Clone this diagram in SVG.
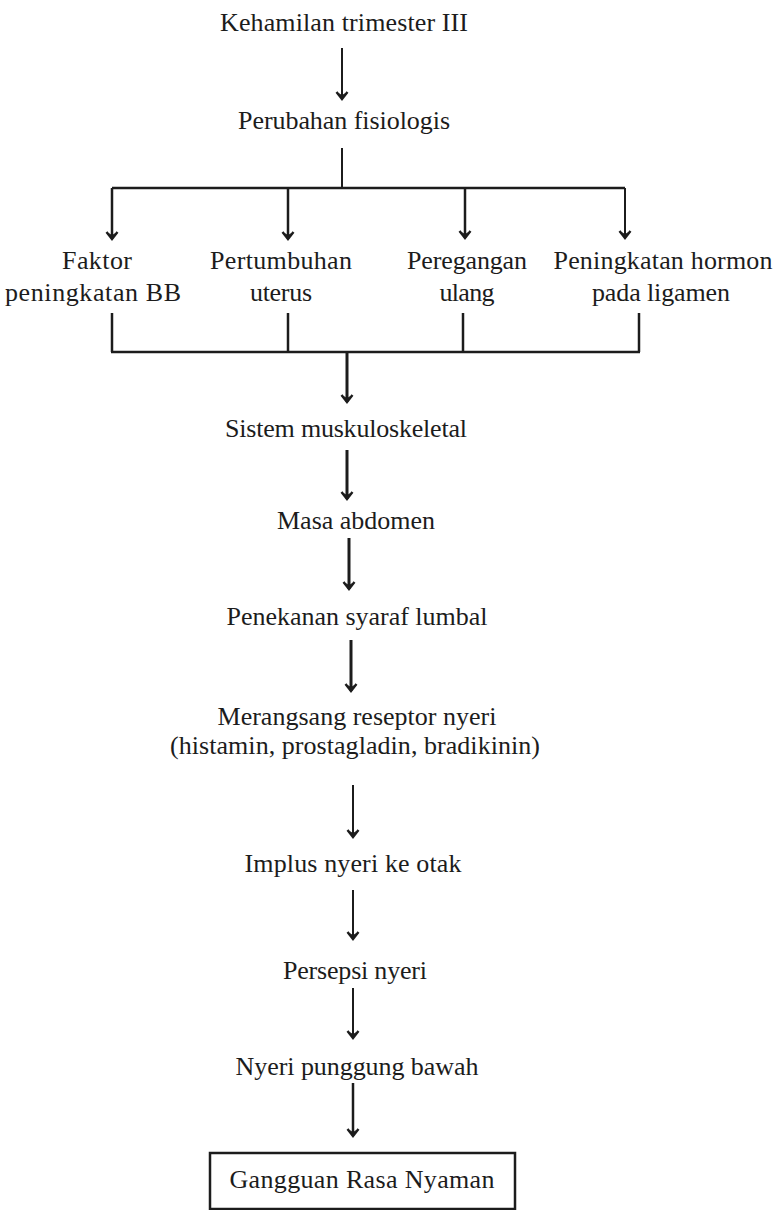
<svg xmlns="http://www.w3.org/2000/svg" width="779" height="1210" viewBox="0 0 779 1210">
<style>
text{font-family:"Liberation Serif","Times New Roman",serif;font-size:26px;fill:#1c1c1c;text-anchor:middle}
.c{fill:none;stroke:#1c1c1c;stroke-linecap:butt}
.t{stroke-width:2}
.m{stroke-width:2.5}
.k{stroke-width:3}
.box{fill:#fff;stroke:#1c1c1c;stroke-width:2.5}
</style>
<defs>
<marker id="ah" markerUnits="userSpaceOnUse" viewBox="-10 -8 12 16" markerWidth="12" markerHeight="16" refX="0" refY="0" orient="auto" overflow="visible">
<path d="M-7,-5.5 L0,0 L-7,5.5" fill="none" stroke="#1c1c1c" stroke-width="2.4" stroke-linejoin="miter"/>
<path d="M0,0 L-6,-3.5 L-4,0 L-6,3.5 Z" fill="#1c1c1c"/>
</marker>
</defs>
<g id="connectors">
<path class="c t" d="M342,48 V99" marker-end="url(#ah)"/>
<path class="c t" d="M342,148 V188"/>
<path class="c m" d="M112,188 H625"/>
<path class="c m" d="M112,188 V239" marker-end="url(#ah)"/>
<path class="c m" d="M288,188 V239" marker-end="url(#ah)"/>
<path class="c m" d="M465,188 V238" marker-end="url(#ah)"/>
<path class="c t" d="M625,188 V238" marker-end="url(#ah)"/>
<path class="c m" d="M112,313 V352"/>
<path class="c m" d="M288,313 V352"/>
<path class="c m" d="M463,313 V352"/>
<path class="c m" d="M639,313 V352"/>
<path class="c m" d="M111,352 H640"/>
<path class="c k" d="M347,352 V402" marker-end="url(#ah)"/>
<path class="c k" d="M347,450 V499" marker-end="url(#ah)"/>
<path class="c k" d="M349,538 V589" marker-end="url(#ah)"/>
<path class="c k" d="M351,640 V691" marker-end="url(#ah)"/>
<path class="c t" d="M353,785 V837" marker-end="url(#ah)"/>
<path class="c t" d="M353,890 V939" marker-end="url(#ah)"/>
<path class="c t" d="M353,988 V1038" marker-end="url(#ah)"/>
<path class="c m" d="M353,1083 V1136" marker-end="url(#ah)"/>
</g>
<g id="n1"><text x="344" y="31" textLength="248">Kehamilan trimester III</text></g>
<g id="n2"><text x="344" y="129" textLength="212">Perubahan fisiologis</text></g>
<g id="n3"><text x="97" y="269" textLength="70">Faktor</text><text x="93" y="301" textLength="176">peningkatan BB</text></g>
<g id="n4"><text x="281" y="269" textLength="142">Pertumbuhan</text><text x="281" y="301" textLength="62">uterus</text></g>
<g id="n5"><text x="467" y="269" textLength="120">Peregangan</text><text x="467" y="301" textLength="55">ulang</text></g>
<g id="n6"><text x="663" y="269" textLength="219">Peningkatan hormon</text><text x="661" y="301" textLength="138">pada ligamen</text></g>
<g id="n7"><text x="346" y="437" textLength="242">Sistem muskuloskeletal</text></g>
<g id="n8"><text x="356" y="529" textLength="158">Masa abdomen</text></g>
<g id="n9"><text x="357" y="625" textLength="261">Penekanan syaraf lumbal</text></g>
<g id="n10"><text x="357" y="725" textLength="279">Merangsang reseptor nyeri</text><text x="355" y="754" textLength="370">(histamin, prostagladin, bradikinin)</text></g>
<g id="n11"><text x="353" y="872" textLength="217">Implus nyeri ke otak</text></g>
<g id="n12"><text x="355" y="979" textLength="144">Persepsi nyeri</text></g>
<g id="n13"><text x="357" y="1075" textLength="243">Nyeri punggung bawah</text></g>
<g id="n14"><rect class="box" x="210" y="1153" width="305" height="56"/><text x="362" y="1188" textLength="265">Gangguan Rasa Nyaman</text></g>
</svg>
